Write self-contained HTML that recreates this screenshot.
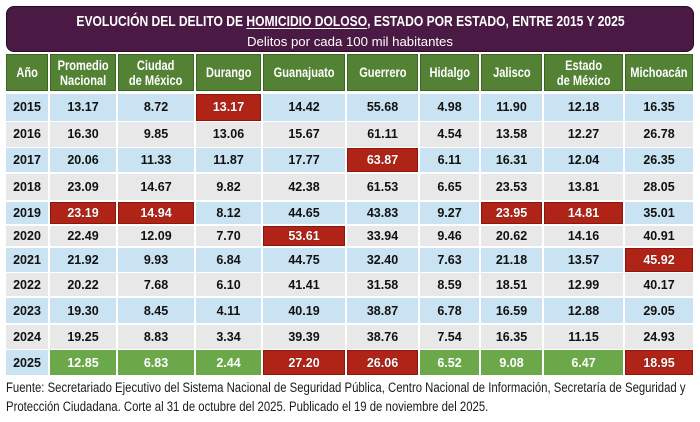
<!DOCTYPE html>
<html><head><meta charset="utf-8">
<style>
html,body{margin:0;padding:0;background:#fff;}
body{width:700px;height:422px;position:relative;overflow:hidden;font-family:"Liberation Sans",sans-serif;}
.box{position:absolute;left:6px;top:6px;width:686px;height:44px;background:#4a1a44;border:1px solid #2a0b26;border-radius:8px;}
.t1{position:absolute;left:0;top:13px;width:700px;text-align:center;color:#fff;font-weight:bold;font-size:15px;line-height:17px;white-space:nowrap;}
.t1 span{display:inline-block;transform:scaleX(0.805);transform-origin:center;}
.t1 u{text-decoration:underline;text-decoration-thickness:1px;text-underline-offset:2px;}
.t2{position:absolute;left:0;top:34px;width:700px;text-align:center;color:#fff;font-size:13.2px;line-height:16px;white-space:nowrap;}
.c{position:absolute;display:flex;align-items:center;justify-content:center;text-align:center;font-weight:bold;font-size:12.5px;color:#111;box-sizing:border-box;white-space:nowrap;}
.h{background:#548235;border:1px solid #3b6520;color:#fff;font-size:13.5px;line-height:15px;top:54px;height:37px;}
.h span{display:inline-block;transform:scaleX(0.82);transform-origin:center;}
.b{background:#c9e3f3;}
.g{background:#e8e8e8;}
.r{background:#b02418;border:1px solid #8a1710;color:#fff;text-shadow:0 0 1px #5a0a05;}
.v{background:#6aa84a;color:#fff;}
.k0{left:6px;width:42px}
.k1{left:50px;width:66px}
.k2{left:118px;width:76px}
.k3{left:196px;width:65px}
.k4{left:263px;width:82px}
.k5{left:347px;width:71px}
.k6{left:420px;width:59px}
.k7{left:481px;width:61px}
.k8{left:544px;width:79px}
.k9{left:625px;width:68px}
.r1{top:94px;height:26.5px}
.r2{top:122px;height:24.5px}
.r3{top:147.5px;height:24.5px}
.r4{top:173.5px;height:26.5px}
.r5{top:201.5px;height:22.5px}
.r6{top:225.5px;height:20.5px}
.r7{top:247.5px;height:24px}
.r8{top:273px;height:23px}
.r9{top:298px;height:25px}
.r10{top:325px;height:24px}
.r11{top:350px;height:25px}
.foot{position:absolute;left:6px;font-size:13.5px;color:#1a1a1a;white-space:nowrap;line-height:16px;transform:scaleX(0.84);transform-origin:left center;}
</style></head><body>
<div class="box"></div>
<div class="t1"><span>EVOLUCIÓN DEL DELITO DE <u>HOMICIDIO DOLOSO</u>, ESTADO POR ESTADO, ENTRE 2015 Y 2025</span></div>
<div class="t2">Delitos por cada 100 mil habitantes</div>

<div class="c h k0"><span>Año</span></div>
<div class="c h k1"><span>Promedio<br>Nacional</span></div>
<div class="c h k2"><span>Ciudad<br>de México</span></div>
<div class="c h k3"><span>Durango</span></div>
<div class="c h k4"><span>Guanajuato</span></div>
<div class="c h k5"><span>Guerrero</span></div>
<div class="c h k6"><span>Hidalgo</span></div>
<div class="c h k7"><span>Jalisco</span></div>
<div class="c h k8"><span>Estado<br>de México</span></div>
<div class="c h k9"><span>Michoacán</span></div>

<div class="c b r1 k0">2015</div><div class="c b r1 k1">13.17</div><div class="c b r1 k2">8.72</div><div class="c r r1 k3">13.17</div><div class="c b r1 k4">14.42</div><div class="c b r1 k5">55.68</div><div class="c b r1 k6">4.98</div><div class="c b r1 k7">11.90</div><div class="c b r1 k8">12.18</div><div class="c b r1 k9">16.35</div>

<div class="c g r2 k0">2016</div><div class="c g r2 k1">16.30</div><div class="c g r2 k2">9.85</div><div class="c g r2 k3">13.06</div><div class="c g r2 k4">15.67</div><div class="c g r2 k5">61.11</div><div class="c g r2 k6">4.54</div><div class="c g r2 k7">13.58</div><div class="c g r2 k8">12.27</div><div class="c g r2 k9">26.78</div>

<div class="c b r3 k0">2017</div><div class="c b r3 k1">20.06</div><div class="c b r3 k2">11.33</div><div class="c b r3 k3">11.87</div><div class="c b r3 k4">17.77</div><div class="c r r3 k5">63.87</div><div class="c b r3 k6">6.11</div><div class="c b r3 k7">16.31</div><div class="c b r3 k8">12.04</div><div class="c b r3 k9">26.35</div>

<div class="c g r4 k0">2018</div><div class="c g r4 k1">23.09</div><div class="c g r4 k2">14.67</div><div class="c g r4 k3">9.82</div><div class="c g r4 k4">42.38</div><div class="c g r4 k5">61.53</div><div class="c g r4 k6">6.65</div><div class="c g r4 k7">23.53</div><div class="c g r4 k8">13.81</div><div class="c g r4 k9">28.05</div>

<div class="c b r5 k0">2019</div><div class="c r r5 k1">23.19</div><div class="c r r5 k2">14.94</div><div class="c b r5 k3">8.12</div><div class="c b r5 k4">44.65</div><div class="c b r5 k5">43.83</div><div class="c b r5 k6">9.27</div><div class="c r r5 k7">23.95</div><div class="c r r5 k8">14.81</div><div class="c b r5 k9">35.01</div>

<div class="c g r6 k0">2020</div><div class="c g r6 k1">22.49</div><div class="c g r6 k2">12.09</div><div class="c g r6 k3">7.70</div><div class="c r r6 k4">53.61</div><div class="c g r6 k5">33.94</div><div class="c g r6 k6">9.46</div><div class="c g r6 k7">20.62</div><div class="c g r6 k8">14.16</div><div class="c g r6 k9">40.91</div>

<div class="c b r7 k0">2021</div><div class="c b r7 k1">21.92</div><div class="c b r7 k2">9.93</div><div class="c b r7 k3">6.84</div><div class="c b r7 k4">44.75</div><div class="c b r7 k5">32.40</div><div class="c b r7 k6">7.63</div><div class="c b r7 k7">21.18</div><div class="c b r7 k8">13.57</div><div class="c r r7 k9">45.92</div>

<div class="c g r8 k0">2022</div><div class="c g r8 k1">20.22</div><div class="c g r8 k2">7.68</div><div class="c g r8 k3">6.10</div><div class="c g r8 k4">41.41</div><div class="c g r8 k5">31.58</div><div class="c g r8 k6">8.59</div><div class="c g r8 k7">18.51</div><div class="c g r8 k8">12.99</div><div class="c g r8 k9">40.17</div>

<div class="c b r9 k0">2023</div><div class="c b r9 k1">19.30</div><div class="c b r9 k2">8.45</div><div class="c b r9 k3">4.11</div><div class="c b r9 k4">40.19</div><div class="c b r9 k5">38.87</div><div class="c b r9 k6">6.78</div><div class="c b r9 k7">16.59</div><div class="c b r9 k8">12.88</div><div class="c b r9 k9">29.05</div>

<div class="c g r10 k0">2024</div><div class="c g r10 k1">19.25</div><div class="c g r10 k2">8.83</div><div class="c g r10 k3">3.34</div><div class="c g r10 k4">39.39</div><div class="c g r10 k5">38.76</div><div class="c g r10 k6">7.54</div><div class="c g r10 k7">16.35</div><div class="c g r10 k8">11.15</div><div class="c g r10 k9">24.93</div>

<div class="c b r11 k0">2025</div><div class="c v r11 k1">12.85</div><div class="c v r11 k2">6.83</div><div class="c v r11 k3">2.44</div><div class="c r r11 k4">27.20</div><div class="c r r11 k5">26.06</div><div class="c v r11 k6">6.52</div><div class="c v r11 k7">9.08</div><div class="c v r11 k8">6.47</div><div class="c r r11 k9">18.95</div>

<div class="foot" style="top:380px">Fuente: Secretariado Ejecutivo del Sistema Nacional de Seguridad Pública, Centro Nacional de Información, Secretaría de Seguridad y</div>
<div class="foot" style="top:399px">Protección Ciudadana. Corte al 31 de octubre del 2025. Publicado el 19 de noviembre del 2025.</div>
</body></html>
